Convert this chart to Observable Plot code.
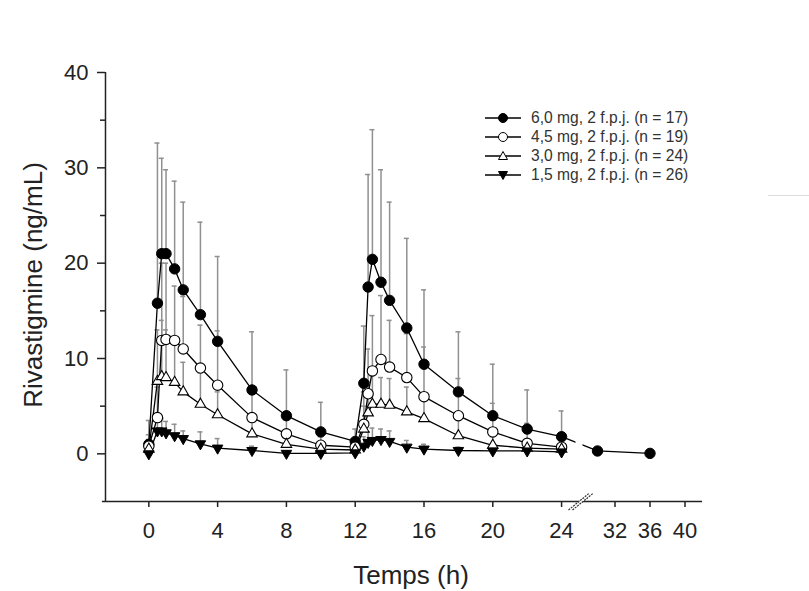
<!DOCTYPE html>
<html>
<head>
<meta charset="utf-8">
<script src="https://cdn.jsdelivr.net/npm/d3@7"></script>
<script src="https://cdn.jsdelivr.net/npm/@observablehq/plot@0.6"></script>
<style>
  body { margin: 0; background: #fff; }
  #wrap { position: relative; width: 809px; height: 591px; overflow: hidden; font-family: "Liberation Sans", Arial, sans-serif; }
  #legend { position: absolute; left: 484px; top: 108px; font-size: 15.6px; color: #333; }
  #legend .row { display: flex; align-items: center; height: 19px; }
  #legend svg { margin-right: 9px; }
  #deco { position: absolute; left: 768px; top: 195px; width: 41px; height: 1px; background: #dcdcdc; }
</style>
</head>
<body>
<div id="wrap"><div id="chart"></div><div id="legend"></div><div id="deco"></div></div>
<script>
// ---- data ----
const TIMES = [0, 0.5, 0.75, 1, 1.5, 2, 3, 4, 6, 8, 10, 12, 12.5, 12.75, 13, 13.5, 14, 15, 16, 18, 20, 22, 24];
const TIMES_60 = [0, 0.5, 0.75, 1, 1.5, 2, 3, 4, 6, 8, 10, 12, 12.5, 12.75, 13, 13.5, 14, 15, 16, 18, 20, 22, 24, 30, 36];

const MEAN_60 = [1.0, 15.8, 21.0, 21.0, 19.4, 17.2, 14.6, 11.8, 6.7, 4.0, 2.3, 1.3, 7.4, 17.5, 20.4, 18.0, 16.1, 13.2, 9.4, 6.5, 4.0, 2.6, 1.8, 0.3, 0.05];
const UPPER_60 = [3.5, 32.6, 31.0, 29.8, 28.6, 26.4, 24.3, 20.7, 12.8, 8.8, 5.4, 2.6, 13.4, 29.3, 34.0, 29.8, 26.4, 22.6, 17.2, 12.8, 9.4, 6.7, 4.5, 0.6, 0.1];

const MEAN_45 = [0.8, 3.8, 11.9, 12.0, 11.9, 11.0, 9.0, 7.2, 3.8, 2.1, 0.9, 0.7, 3.1, 6.3, 8.7, 9.9, 9.1, 8.0, 6.0, 4.0, 2.3, 1.1, 0.7];
const UPPER_45 = [2.0, 7.0, 20.0, 20.0, 17.6, 16.5, 13.5, 12.9, 7.0, 3.7, 1.8, 1.5, 6.5, 11.0, 14.5, 16.6, 14.0, 12.6, 11.2, 7.9, 5.3, 3.2, 2.0];

const MEAN_30 = [0.5, 7.6, 8.1, 8.0, 7.5, 6.5, 5.2, 4.1, 2.1, 1.0, 0.5, 0.4, 2.6, 4.3, 5.2, 5.2, 5.1, 4.4, 3.7, 1.9, 0.9, 0.6, 0.5];
const UPPER_30 = [1.5, 13.0, 14.0, 13.0, 12.0, 9.6, 8.5, 6.5, 3.8, 2.0, 1.2, 1.0, 5.0, 7.5, 8.2, 8.0, 7.9, 7.0, 6.0, 3.5, 1.8, 1.3, 1.0];

const MEAN_15 = [0.0, 2.4, 2.4, 2.2, 1.9, 1.6, 1.05, 0.6, 0.35, 0.05, 0.05, 0.1, 0.8, 1.2, 1.4, 1.5, 1.3, 0.7, 0.5, 0.35, 0.3, 0.3, 0.2];
const UPPER_15 = [0.3, 3.7, 3.7, 3.4, 3.1, 2.4, 2.3, 1.6, 0.8, 0.3, 0.3, 0.4, 1.8, 2.3, 2.7, 2.6, 2.4, 1.4, 1.0, 0.7, 0.6, 0.6, 0.5];

const SERIES_LABELS = ["6,0 mg, 2 f.p.j. (n = 17)", "4,5 mg, 2 f.p.j. (n = 19)", "3,0 mg, 2 f.p.j. (n = 24)", "1,5 mg, 2 f.p.j. (n = 26)"];
const X_TICKS = [0, 4, 8, 12, 16, 20, 24, 32, 36, 40];
const Y_TICKS = [0, 10, 20, 30, 40];
const Y_MINOR = [5, 15, 25, 35];

// ---- build tables ----
function table(times, mean, upper, key) {
  return times.map((t, i) => ({t, m: mean[i], u: upper[i], key}));
}
const d60 = table(TIMES_60, MEAN_60, UPPER_60, 0);
const d45 = table(TIMES, MEAN_45, UPPER_45, 1);
const d30 = table(TIMES, MEAN_30, UPPER_30, 2);
const d15 = table(TIMES, MEAN_15, UPPER_15, 3);
const all = [...d60, ...d45, ...d30, ...d15];

// custom symbols
const invTriangle = {
  draw(ctx, size) {
    const y = -Math.sqrt(size / (Math.sqrt(3) * 3));
    ctx.moveTo(0, -2 * y);
    ctx.lineTo(-Math.sqrt(3) * y, y);
    ctx.lineTo(Math.sqrt(3) * y, y);
    ctx.closePath();
  }
};
const capSymbol = { draw(ctx) { ctx.moveTo(-3, 0); ctx.lineTo(2, 0); } };

const GRAY = "#909090";
const FONT = "Liberation Sans, Arial, sans-serif";

// axis break (line gap + double slash)
function axisBreak(index, scales) {
  const g = d3.create("svg:g");
  const xb = (scales.x(25.1) + scales.x(28.4)) / 2 - 1;
  const y0 = scales.y(-5);
  g.append("rect").attr("x", xb - 5).attr("y", scales.y(3)).attr("width", 7).attr("height", scales.y(-1.5) - scales.y(3)).attr("fill", "#fff");
  g.append("path").attr("d", `M${xb - 11},${y0 + 8}L${xb + 9},${y0 - 8}L${xb + 13},${y0 - 8}L${xb - 7},${y0 + 8}Z`).attr("fill", "#fff");
  for (const off of [0, 4]) {
    g.append("line")
      .attr("x1", xb - 12 + off).attr("y1", y0 + 9)
      .attr("x2", xb + 9 + off).attr("y2", y0 - 8)
      .attr("stroke", "#333").attr("stroke-width", 1.2).attr("stroke-dasharray", "2,1");
  }
  return g.node();
}

const chart = Plot.plot({
  width: 809,
  height: 591,
  marginTop: 72,
  marginBottom: 90,
  marginLeft: 105,
  marginRight: 107,
  style: { fontFamily: FONT, background: "#fff", color: "#222", overflow: "visible" },
  x: { type: "linear", domain: [-2.7, 25.1, 28.4, 42], range: [101.9, 580, 583, 702] },
  y: { domain: [-5, 40], range: [501, 72] },
  marks: [
    Plot.ruleY([-5], { x1: -2.7, x2: 42, stroke: "#222", strokeWidth: 1.5 }),
    Plot.ruleX([-2.52], { y1: -5, y2: 40, stroke: "#222", strokeWidth: 1.5 }),
    Plot.axisX({ ticks: X_TICKS, tickSize: 6, tickPadding: 15, fontSize: 22, label: null, stroke: "#222", strokeWidth: 1.5 }),
    Plot.axisY({ ticks: Y_TICKS, tickSize: 8, tickPadding: 9, fontSize: 22, label: null, stroke: "#222", strokeWidth: 1.5 }),
    Plot.axisY({ ticks: Y_MINOR, tickSize: 5, tickFormat: () => "", label: null, stroke: "#222", strokeWidth: 1.5 }),
    // error bars
    Plot.ruleX(all, { x: "t", y1: "m", y2: "u", stroke: GRAY, strokeWidth: 1.5 }),
    Plot.dot(all, { x: "t", y: "u", symbol: capSymbol, stroke: GRAY, strokeWidth: 1.5, fill: "none" }),
    // lines
    Plot.line(d60, { x: "t", y: "m", stroke: "#000", strokeWidth: 1.3 }),
    Plot.line(d45, { x: "t", y: "m", stroke: "#000", strokeWidth: 1.3 }),
    Plot.line(d30, { x: "t", y: "m", stroke: "#000", strokeWidth: 1.3 }),
    Plot.line(d15, { x: "t", y: "m", stroke: "#000", strokeWidth: 1.3 }),
    axisBreak,
    // markers
    Plot.dot(d60, { x: "t", y: "m", r: 5.2, fill: "#000", stroke: "#000", strokeWidth: 1 }),
    Plot.dot(d45, { x: "t", y: "m", r: 5.2, fill: "#fff", stroke: "#000", strokeWidth: 1.1 }),
    Plot.dot(d30, { x: "t", y: "m", r: 3.9, symbol: "triangle", fill: "#fff", stroke: "#000", strokeWidth: 1.1 }),
    Plot.dot(d15, { x: "t", y: "m", r: 3.9, symbol: invTriangle, fill: "#000", stroke: "#000", strokeWidth: 1 }),
    // axis titles
    Plot.text(["Temps (h)"], { frameAnchor: "bottom", textAnchor: "middle", lineAnchor: "middle", dx: 7, dy: 74, fontSize: 26, fill: "#222" }),
    Plot.text(["Rivastigmine (ng/mL)"], { frameAnchor: "left", textAnchor: "middle", lineAnchor: "middle", rotate: -90, dx: -72, dy: -2, fontSize: 26, fill: "#222" })
  ]
});
document.getElementById("chart").appendChild(chart);

// legend
const legendMarkers = [
  `<circle cx="19" cy="8" r="4.5" fill="#000" stroke="#000"/>`,
  `<circle cx="19" cy="8" r="4.5" fill="#fff" stroke="#000"/>`,
  `<path d="M19,3.5L23.5,11.5L14.5,11.5Z" fill="#fff" stroke="#000"/>`,
  `<path d="M19,12.5L23.5,4.5L14.5,4.5Z" fill="#000" stroke="#000"/>`
];
const legend = document.getElementById("legend");
SERIES_LABELS.forEach((lab, i) => {
  const row = document.createElement("div");
  row.className = "row";
  row.innerHTML = `<svg width="38" height="16"><line x1="1" y1="8" x2="37" y2="8" stroke="#000" stroke-width="1.3"/>${legendMarkers[i]}</svg><span>${lab}</span>`;
  legend.appendChild(row);
});
</script>
</body>
</html>
